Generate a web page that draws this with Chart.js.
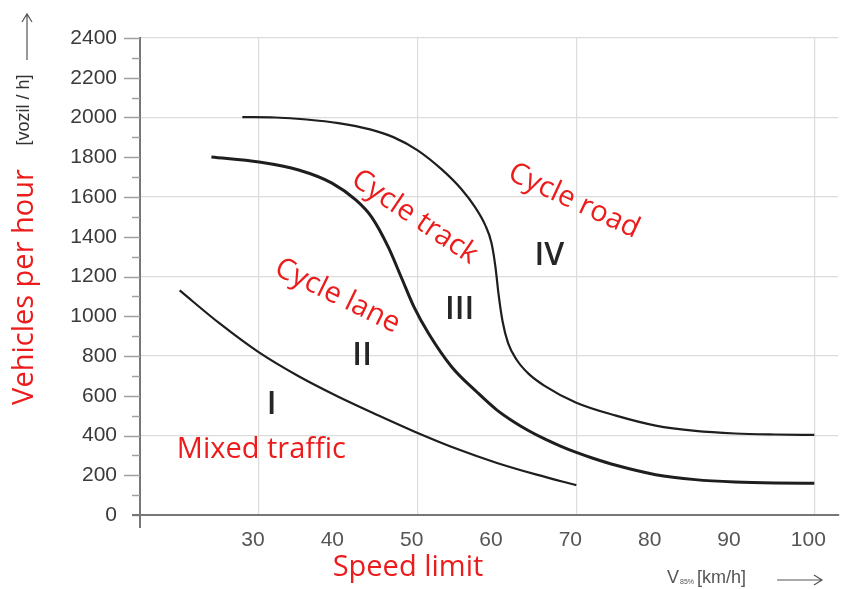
<!DOCTYPE html>
<html>
<head>
<meta charset="utf-8">
<script src="https://cdn.jsdelivr.net/npm/chart.js@4.4.1/dist/chart.umd.min.js"></script>
<style>
  html,body{margin:0;padding:0;background:#fff;}
  #wrap{width:845px;height:589px;position:relative;}
</style>
</head>
<body>
<div id="wrap"><canvas id="c"></canvas></div>
<script>
// ===== Data =====
const X_TICKS = [30, 40, 50, 60, 70, 80, 90, 100];
const X_GRID  = [30, 50, 70, 100];

const SPEED_MIXED = [20, 25, 30, 35, 40, 45, 50, 55, 60, 65, 70];
const FLOW_MIXED  = [1130, 965, 818, 698, 595, 502, 413, 332, 262, 203, 150];

const SPEED_LANE = [24, 30, 35, 39.2, 42.2, 44.2, 46.3, 48, 49.5, 51.4, 54.3, 57.6, 60, 62, 64, 66, 68, 70, 72, 75, 80, 85, 90, 95, 100];
const FLOW_LANE  = [1801, 1776, 1736, 1670, 1585, 1499, 1348, 1190, 1050, 912, 745, 614, 528, 472, 424, 383, 347, 315, 287, 250, 203, 178, 166, 161, 160];

const SPEED_TRACK = [27.9, 32, 36, 40, 44, 47, 50, 53, 55.5, 57.3, 58.5, 59.3, 59.8, 60.2, 60.7, 61.4, 62.5, 64, 66, 70, 75, 80, 85, 90, 95, 100];
const FLOW_TRACK  = [2002, 2000, 1990, 1972, 1940, 1900, 1835, 1740, 1640, 1545, 1460, 1370, 1250, 1110, 975, 865, 780, 710, 650, 565, 500, 450, 423, 410, 405, 403];

// region numerals and red zone names, placed in data coordinates
const NUMERALS = [
  { t:'I',   x:31.6, y:553 },
  { t:'II',  x:43.0, y:800 },
  { t:'III', x:55.3, y:1031 },
  { t:'IV',  x:66.6, y:1303 },
];
const ZONES = [
  { t:'Mixed traffic', x:30.3, y:327,  rot:0 },
  { t:'Cycle lane',    x:39.9, y:1102, rot:26 },
  { t:'Cycle track',   x:49.6, y:1499, rot:34 },
  { t:'Cycle road',    x:69.7, y:1580, rot:25 },
];

const pts = (xs, ys) => xs.map((x, i) => ({ x, y: ys[i] }));

// ===== Extras: minor/major tick marks, axis stubs, texts =====
const extras = {
  id:'extras',
  afterDraw(chart){
    const { ctx, chartArea:a, scales:{ x, y } } = chart;
    ctx.save();
    // y tick marks (major every 200, minor every 100)
    ctx.strokeStyle = '#a0a0a0'; ctx.lineWidth = 1.5;
    for (let v = 0; v <= 2400; v += 100){
      const py = Math.round(y.getPixelForValue(v)) + .5;
      const len = (v % 200 === 0 && v > 0) ? 16 : 8;
      ctx.beginPath(); ctx.moveTo(a.left - len, py); ctx.lineTo(a.left, py); ctx.stroke();
    }
    // axis stubs
    ctx.strokeStyle = '#777'; ctx.lineWidth = 2;
    ctx.beginPath(); ctx.moveTo(a.left, a.bottom); ctx.lineTo(a.left, a.bottom + 13); ctx.stroke();
    ctx.beginPath(); ctx.moveTo(a.left - 8, a.bottom); ctx.lineTo(a.left, a.bottom); ctx.stroke();

    // roman numerals
    ctx.fillStyle = '#262626';
    ctx.font = '600 32px "Open Sans"';
    ctx.textAlign = 'center'; ctx.textBaseline = 'middle';
    NUMERALS.forEach(n => ctx.fillText(n.t, x.getPixelForValue(n.x), y.getPixelForValue(n.y)));

    // zone names
    ctx.fillStyle = '#ec1c1c';
    ctx.font = '29px "Open Sans"';
    ZONES.forEach(z => {
      ctx.save();
      ctx.translate(x.getPixelForValue(z.x), y.getPixelForValue(z.y));
      ctx.rotate(z.rot * Math.PI / 180);
      ctx.fillText(z.t, 0, 0);
      ctx.restore();
    });

    // axis titles
    ctx.fillText('Speed limit', 408, 568);
    ctx.save();
    ctx.translate(25, 287); ctx.rotate(-Math.PI/2);
    ctx.fillText('Vehicles per hour', 0, 0);
    ctx.restore();

    ctx.fillStyle = '#333';
    ctx.font = '18px "Liberation Sans"';
    ctx.save();
    ctx.translate(24, 110); ctx.rotate(-Math.PI/2);
    ctx.fillText('[vozil / h]', 0, 0);
    ctx.restore();

    // unit on x
    ctx.fillStyle = '#555';
    ctx.textAlign = 'left';
    ctx.font = '18px "Liberation Sans"';
    ctx.fillText('V', 667, 578);
    ctx.font = '7px "Liberation Sans"';
    ctx.fillText('85%', 680, 582);
    ctx.font = '18px "Liberation Sans"';
    ctx.fillText('[km/h]', 697, 578);

    // arrows
    ctx.strokeStyle = '#555'; ctx.lineWidth = 1.2;
    ctx.beginPath();
    ctx.moveTo(777, 580); ctx.lineTo(822, 580);
    ctx.moveTo(814, 575); ctx.lineTo(822, 580); ctx.lineTo(814, 585);
    ctx.moveTo(27, 60); ctx.lineTo(27, 14);
    ctx.moveTo(22, 22); ctx.lineTo(27, 14); ctx.lineTo(32, 22);
    ctx.stroke();
    ctx.restore();
  }
};

const lineDs = (label, data, w) => ({
  label, data, borderColor:'#1e1e1e', borderWidth:w,
  pointRadius:0, cubicInterpolationMode:'monotone', fill:false
});

new Chart(document.getElementById('c'), {
  type:'line',
  data:{
    datasets:[
      lineDs('I / II',   pts(SPEED_MIXED, FLOW_MIXED), 2.2),
      lineDs('II / III', pts(SPEED_LANE,  FLOW_LANE),  3),
      lineDs('III / IV', pts(SPEED_TRACK, FLOW_TRACK), 2.2),
    ]
  },
  options:{
    responsive:true, maintainAspectRatio:false, animation:false,
    layout:{ padding:{ top:38, right:5, left:0, bottom:0 } },
    plugins:{ legend:{display:false}, tooltip:{enabled:false} },
    scales:{
      x:{
        type:'linear', min:15, max:103,
        afterBuildTicks:(s) => { s.ticks = X_TICKS.map(v => ({ value:v })); },
        afterFit:(s) => { s.height = 74; },
        grid:{ drawTicks:false, lineWidth:1.2,
               color:(c) => X_GRID.includes(c.tick?.value) ? '#dcdcdc' : 'rgba(0,0,0,0)' },
        border:{ color:'#777', width:2 },
        ticks:{ color:'#555', padding:13, labelOffset:-6, font:{ family:'Liberation Sans', size:21 } }
      },
      y:{
        type:'linear', min:0, max:2400,
        ticks:{ stepSize:100, autoSkip:false, color:'#3a3a3a', padding:23,
                font:{ family:'Liberation Sans', size:21 },
                callback:(v) => v % 200 === 0 ? v : '' },
        afterFit:(s) => { s.width = 140; },
        grid:{ drawTicks:false, lineWidth:1.2,
               color:(c) => (c.tick && c.tick.value % 400 === 0 && c.tick.value > 0) ? '#dcdcdc' : 'rgba(0,0,0,0)' },
        border:{ color:'#777', width:2 }
      }
    }
  },
  plugins:[extras]
});
</script>
</body>
</html>
